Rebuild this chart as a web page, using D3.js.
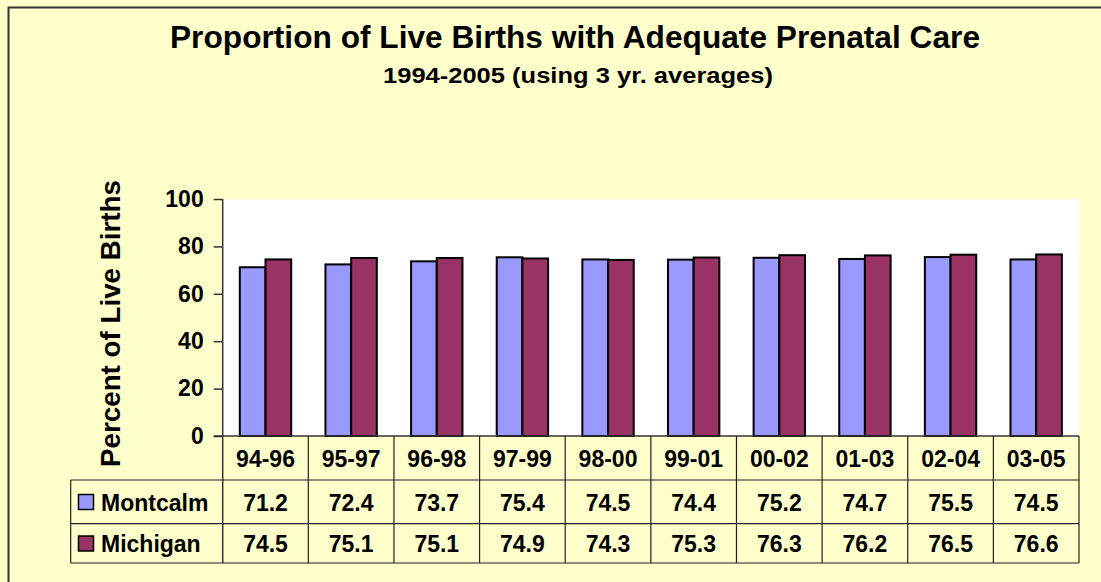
<!DOCTYPE html>
<html>
<head>
<meta charset="utf-8">
<script src="https://cdn.jsdelivr.net/npm/d3@7"></script>
<style>
  body { margin: 0; background: #ffffcc; }
  text { font-family: "Liberation Sans", Arial, sans-serif; font-weight: bold; fill: #000; }
</style>
</head>
<body>
<script>
var w = 1101,
    h = 582;

var categories = ["94-96", "95-97", "96-98", "97-99", "98-00", "99-01", "00-02", "01-03", "02-04", "03-05"];
var seriesNames = ["Montcalm", "Michigan"];
var montcalm = [71.2, 72.4, 73.7, 75.4, 74.5, 74.4, 75.2, 74.7, 75.5, 74.5];
var michigan = [74.5, 75.1, 75.1, 74.9, 74.3, 75.3, 76.3, 76.2, 76.5, 76.6];
var yTicks = [0, 20, 40, 60, 80, 100];
var colors = ["#9999ff", "#993366"];

var seriesValues = [montcalm, michigan];

// plot area
var plotLeft = 222.7, plotRight = 1079, plotTop = 199, plotBottom = 436;
var tableLeft = 70.7, rowLines = [480, 523.7, 563];

var svg = d3.select("body")
            .append("svg")
            .attr("width", w)
            .attr("height", h);

// chart background + border
svg.append("rect")
    .attr("x", 8.5).attr("y", 7.5)
    .attr("width", 1100).attr("height", 600)
    .attr("fill", "#ffffcc")
    .attr("stroke", "#333")
    .attr("stroke-width", 2);

svg.append("rect")
    .attr("x", plotLeft).attr("y", plotTop)
    .attr("width", plotRight - plotLeft).attr("height", plotBottom - plotTop)
    .attr("fill", "#fff");

// titles
svg.append("text")
    .attr("x", 575).attr("y", 48)
    .attr("text-anchor", "middle")
    .attr("font-size", "32px")
    .attr("textLength", 810)
    .attr("lengthAdjust", "spacingAndGlyphs")
    .text("Proportion of Live Births with Adequate Prenatal Care");

svg.append("text")
    .attr("x", 578).attr("y", 83)
    .attr("text-anchor", "middle")
    .attr("font-size", "22px")
    .attr("textLength", 390)
    .attr("lengthAdjust", "spacingAndGlyphs")
    .text("1994-2005 (using 3 yr. averages)");

svg.append("text")
    .attr("transform", "translate(120," + 323.5 + ") rotate(-90)")
    .attr("text-anchor", "middle")
    .attr("font-size", "28px")
    .attr("textLength", 287)
    .attr("lengthAdjust", "spacingAndGlyphs")
    .text("Percent of Live Births");

// scales
var x = d3.scaleBand()
    .domain(categories)
    .range([plotLeft, plotRight])
    .paddingInner(0.4)
    .paddingOuter(0.2);

var xCell = d3.scaleBand()
    .domain(categories)
    .range([plotLeft, plotRight]);

var xSub = d3.scaleBand()
    .domain(seriesNames)
    .range([0, x.bandwidth()]);

var y = d3.scaleLinear()
    .domain([0, 100])
    .range([plotBottom, plotTop]);

// y axis
var yAxis = d3.axisLeft(y)
    .tickValues(yTicks)
    .tickSize(9)
    .tickPadding(10);

var ya = svg.append("g")
    .attr("transform", "translate(" + plotLeft + ",0)")
    .call(yAxis);
ya.select(".domain").remove();
ya.selectAll(".tick line").attr("stroke", "#333").attr("stroke-width", 1.5);
ya.selectAll(".tick text")
    .attr("font-size", "23px")
    .attr("font-family", "Liberation Sans, Arial, sans-serif")
    .attr("font-weight", "bold")
    .attr("fill", "#000");

// bars
var groups = svg.selectAll("g.series")
    .data(seriesNames)
    .enter()
    .append("g")
    .attr("class", "series");

groups.each(function(name, si) {
    d3.select(this).selectAll("rect")
        .data(seriesValues[si])
        .enter()
        .append("rect")
        .attr("x", function(d, i) { return x(categories[i]) + xSub(name); })
        .attr("y", function(d) { return y(d); })
        .attr("width", xSub.bandwidth())
        .attr("height", function(d) { return y(0) - y(d); })
        .attr("fill", colors[si])
        .attr("stroke", "#000")
        .attr("stroke-width", 2);
});

// axis + table lines
var lineColor = "#222";
svg.append("line")
    .attr("x1", plotLeft - 9).attr("x2", plotRight)
    .attr("y1", plotBottom).attr("y2", plotBottom)
    .attr("stroke", "#333").attr("stroke-width", 1.5);

svg.append("line")
    .attr("x1", plotLeft).attr("x2", plotLeft)
    .attr("y1", plotTop).attr("y2", rowLines[2])
    .attr("stroke", "#333").attr("stroke-width", 1.5);

svg.selectAll("line.col")
    .data(categories)
    .enter()
    .append("line")
    .attr("class", "col")
    .attr("x1", function(d) { return xCell(d) + xCell.bandwidth(); })
    .attr("x2", function(d) { return xCell(d) + xCell.bandwidth(); })
    .attr("y1", plotBottom)
    .attr("y2", rowLines[2])
    .attr("stroke", lineColor)
    .attr("stroke-width", 1.2);

svg.selectAll("line.row")
    .data(rowLines)
    .enter()
    .append("line")
    .attr("class", "row")
    .attr("x1", tableLeft).attr("x2", plotRight)
    .attr("y1", function(d) { return d; })
    .attr("y2", function(d) { return d; })
    .attr("stroke", lineColor)
    .attr("stroke-width", 1.2);

svg.append("line")
    .attr("x1", tableLeft).attr("x2", tableLeft)
    .attr("y1", rowLines[0]).attr("y2", rowLines[2])
    .attr("stroke", lineColor)
    .attr("stroke-width", 1.2);

// category labels
svg.selectAll("text.cat")
    .data(categories)
    .enter()
    .append("text")
    .attr("class", "cat")
    .attr("x", function(d) { return xCell(d) + xCell.bandwidth() / 2; })
    .attr("y", 466.5)
    .attr("text-anchor", "middle")
    .attr("font-size", "23px")
    .text(function(d) { return d; });

// value rows with legend keys
var rowMid = [502, 543.5];
seriesNames.forEach(function(name, si) {
    svg.append("rect")
        .attr("x", 78.5).attr("y", rowMid[si] - 7.5)
        .attr("width", 15).attr("height", 15)
        .attr("fill", colors[si])
        .attr("stroke", "#000")
        .attr("stroke-width", 1.5);

    svg.append("text")
        .attr("x", 101)
        .attr("y", rowMid[si] + 8.5)
        .attr("font-size", "23px")
        .text(name);

    svg.selectAll("text.v" + si)
        .data(seriesValues[si])
        .enter()
        .append("text")
        .attr("class", "v" + si)
        .attr("x", function(d, i) { return xCell(categories[i]) + xCell.bandwidth() / 2; })
        .attr("y", rowMid[si] + 8.5)
        .attr("text-anchor", "middle")
        .attr("font-size", "23px")
        .text(function(d) { return d.toFixed(1); });
});
</script>
</body>
</html>
